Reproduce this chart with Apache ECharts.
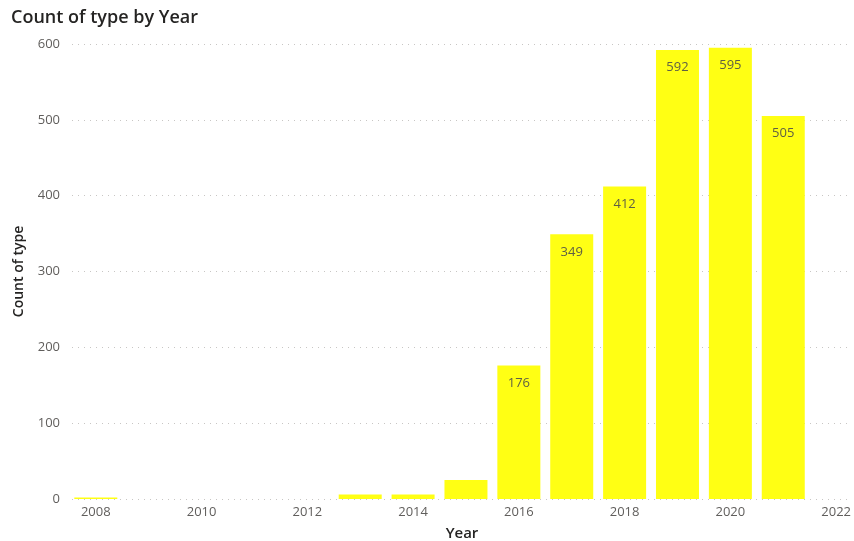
<!DOCTYPE html>
<html>
<head>
<meta charset="utf-8">
<script src="https://cdn.jsdelivr.net/npm/echarts@6/dist/echarts.min.js"></script>
<style>
  html, body { margin: 0; padding: 0; background: #fff; }
  #chart { width: 854px; height: 541px; }
</style>
</head>
<body>
<div id="chart"></div>
<script>
// Yearly counts of records by type
const years = [2008, 2013, 2014, 2015, 2016, 2017, 2018, 2019, 2020, 2021];
const counts = [2, 6, 6, 25, 176, 349, 412, 592, 595, 505];
// Values printed inside the bars (small bars carry no label)
const labelledYears = [2016, 2017, 2018, 2019, 2020, 2021];
const xTickLabels = [2008, 2010, 2012, 2014, 2016, 2018, 2020, 2022];
const yTickLabels = [0, 100, 200, 300, 400, 500, 600];

const FONT = '"Open Sans", "DejaVu Sans", sans-serif';

const chart = echarts.init(document.getElementById('chart'), null, { renderer: 'canvas' });

chart.setOption({
  animation: false,
  backgroundColor: '#ffffff',
  title: {
    text: 'Count of type by Year',
    left: 6,
    top: 4,
    textStyle: { fontFamily: FONT, fontSize: 18, fontWeight: 600, color: '#252423' }
  },
  grid: { left: 72, right: 2, top: 44, bottom: 42, containLabel: false, outerBoundsMode: 'none' },
  xAxis: {
    type: 'value',
    min: 2007.55,
    max: 2022.3,
    name: 'Year',
    nameLocation: 'middle',
    nameGap: 27,
    nameTextStyle: { fontFamily: FONT, fontSize: 15, color: '#252423', fontWeight: 600 },
    axisLine: { show: false },
    axisTick: { show: false },
    splitLine: { show: false },
    axisLabel: {
      customValues: xTickLabels,
      fontFamily: FONT, fontSize: 13, color: '#605E5C', margin: 7,
      formatter: v => String(v)
    }
  },
  yAxis: {
    type: 'value',
    min: 0,
    max: 600,
    interval: 100,
    name: 'Count of type',
    nameLocation: 'middle',
    nameGap: 46,
    nameTextStyle: { fontFamily: FONT, fontSize: 14, color: '#252423', fontWeight: 600 },
    axisLine: { show: false },
    axisTick: { show: false },
    axisLabel: {
      customValues: yTickLabels,
      fontFamily: FONT, fontSize: 13, color: '#605E5C', margin: 12
    },
    splitLine: { lineStyle: { color: '#C8C6C4', type: [1, 5], width: 1 } }
  },
  series: [{
    type: 'bar',
    barWidth: 43,
    data: years.map((y, i) => ({
      value: [y, counts[i]],
      label: { show: labelledYears.includes(y) }
    })),
    itemStyle: { color: '#FFFF14' },
    label: {
      position: 'insideTop',
      distance: 11,
      fontFamily: FONT,
      fontSize: 13,
      color: '#5f5f45',
      formatter: p => p.value[1]
    }
  }]
});
</script>
</body>
</html>
